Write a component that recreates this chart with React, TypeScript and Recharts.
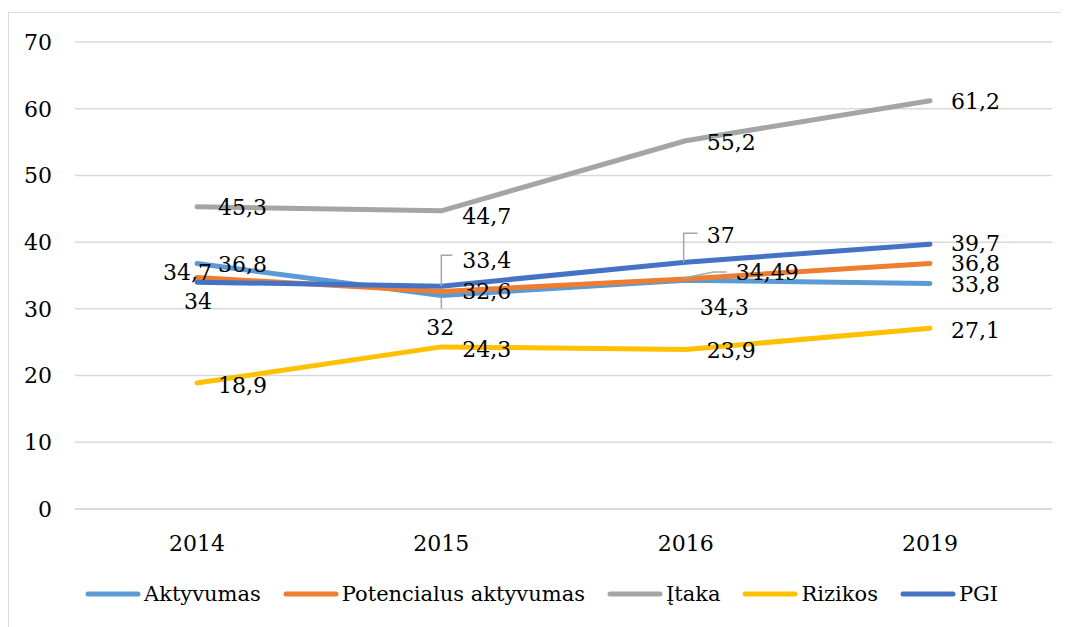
import React from 'react';
import { LineChart, Line, XAxis, YAxis, CartesianGrid, LabelList } from 'recharts';

const years = ['2014', '2015', '2016', '2019'];
const aktyvumas = [36.8, 32, 34.3, 33.8];
const potencialus = [34.7, 32.6, 34.49, 36.8];
const itaka = [45.3, 44.7, 55.2, 61.2];
const rizikos = [18.9, 24.3, 23.9, 27.1];
const pgi = [34, 33.4, 37, 39.7];
const yTicks = [0, 10, 20, 30, 40, 50, 60, 70];

// Times-like serif is not installed, DejaVu Serif is the closest serif face
const FONT = "'DejaVu Serif', serif";
const FS = 22;

const series = [
  { key: 'aktyvumas', name: 'Aktyvumas', color: '#5B9BD5', values: aktyvumas },
  { key: 'potencialus', name: 'Potencialus aktyvumas', color: '#ED7D31', values: potencialus },
  { key: 'itaka', name: 'Įtaka', color: '#A5A5A5', values: itaka },
  { key: 'rizikos', name: 'Rizikos', color: '#FFC000', values: rizikos },
  { key: 'pgi', name: 'PGI', color: '#4472C4', values: pgi },
];

const data = years.map((year, i) => {
  const row: Record<string, string | number> = { year };
  series.forEach((s) => (row[s.key] = s.values[i]));
  return row;
});

// label placement per series / point (dx, dy from the point, anchor, leader path)
type LabelPos = { dx: number; dy: number; anchor?: string; leader?: (x: number, y: number) => string };
const R = (dy = 0): LabelPos => ({ dx: 21, dy });

const labelPos: Record<string, LabelPos[]> = {
  aktyvumas: [
    R(1),
    { dx: -1, dy: 32, anchor: 'middle', leader: (x, y) => `M${x},${y + 2}L${x},${y + 13}` },
    { dx: 14, dy: 27 },
    R(1),
  ],
  potencialus: [
    { dx: 15, dy: -5, anchor: 'end' },
    R(0),
    { dx: 50, dy: -6, leader: (x, y) => `M${x - 2},${y - 1}L${x + 28},${y - 7}L${x + 41},${y - 7}` },
    R(0),
  ],
  itaka: [R(1), R(6), R(2), R(1)],
  rizikos: [R(3), R(3), R(1), R(2)],
  pgi: [
    { dx: 15, dy: 19, anchor: 'end' },
    { dx: 21, dy: -26, leader: (x, y) => `M${x},${y}L${x},${y - 31}L${x + 11},${y - 31}` },
    { dx: 21, dy: -27, leader: (x, y) => `M${x - 2},${y}L${x - 2},${y - 29}L${x + 12},${y - 29}` },
    R(-1),
  ],
};

const fmt = (v: number) => String(v).replace('.', ',');

const makeLabel = (key: string) => (props: any) => {
  const { x, y, value, index } = props;
  const p = labelPos[key][index];
  return (
    <g key={`${key}-${index}`}>
      {p.leader && <path d={p.leader(x, y)} stroke="#A6A6A6" strokeWidth={1.5} fill="none" />}
      <text
        x={x + p.dx}
        y={y + p.dy}
        textAnchor={p.anchor || 'start'}
        dominantBaseline="central"
        fontFamily={FONT}
        fontSize={FS}
        fill="#000"
      >
        {fmt(value)}
      </text>
    </g>
  );
};

const ChartLegend = () => (
  <div
    style={{
      position: 'absolute',
      top: 566,
      left: 76,
      height: 30,
      display: 'flex',
      alignItems: 'center',
      fontFamily: FONT,
      fontSize: 21,
      color: '#000',
      whiteSpace: 'nowrap',
    }}
  >
    {series.map((s) => (
      <div key={s.key} style={{ display: 'flex', alignItems: 'center', marginRight: 22 }}>
        <svg width={56} height={10} style={{ marginRight: 3 }}>
          <line x1={3} y1={5} x2={53} y2={5} stroke={s.color} strokeWidth={5} strokeLinecap="round" />
        </svg>
        <span>{s.name}</span>
      </div>
    ))}
  </div>
);

const tickStyle = { fontFamily: FONT, fontSize: FS, fill: '#000' };

export default function App() {
  return (
    <div
      style={{
        position: 'relative',
        marginTop: 4,
        width: 1061,
        height: 615,
        borderTop: '1px solid #D9D9D9',
        borderLeft: '1px solid #D9D9D9',
        background: '#fff',
      }}
    >
      <LineChart
        width={1060}
        height={614}
        data={data}
        margin={{ top: 29, right: 17, bottom: 58, left: 0 }}
      >
        <CartesianGrid vertical={false} stroke="#D9D9D9" strokeWidth={1.5} />
        <XAxis
          dataKey="year"
          padding={{ left: 122, right: 122 }}
          axisLine={{ stroke: '#D9D9D9', strokeWidth: 1.5 }}
          tickLine={false}
          tickSize={0}
          tickMargin={26}
          height={60}
          tick={tickStyle}
        />
        <YAxis
          domain={[0, 70]}
          ticks={yTicks}
          width={66}
          axisLine={false}
          tickLine={false}
          tickSize={0}
          tickMargin={23}
          tick={tickStyle}
        />
        {series.map((s) => (
          <Line
            key={s.key}
            dataKey={s.key}
            name={s.name}
            stroke={s.color}
            strokeWidth={5}
            strokeLinecap="round"
            strokeLinejoin="round"
            dot={false}
            activeDot={false}
            isAnimationActive={false}
          >
            <LabelList dataKey={s.key} content={makeLabel(s.key)} />
          </Line>
        ))}
      </LineChart>
      <ChartLegend />
    </div>
  );
}
